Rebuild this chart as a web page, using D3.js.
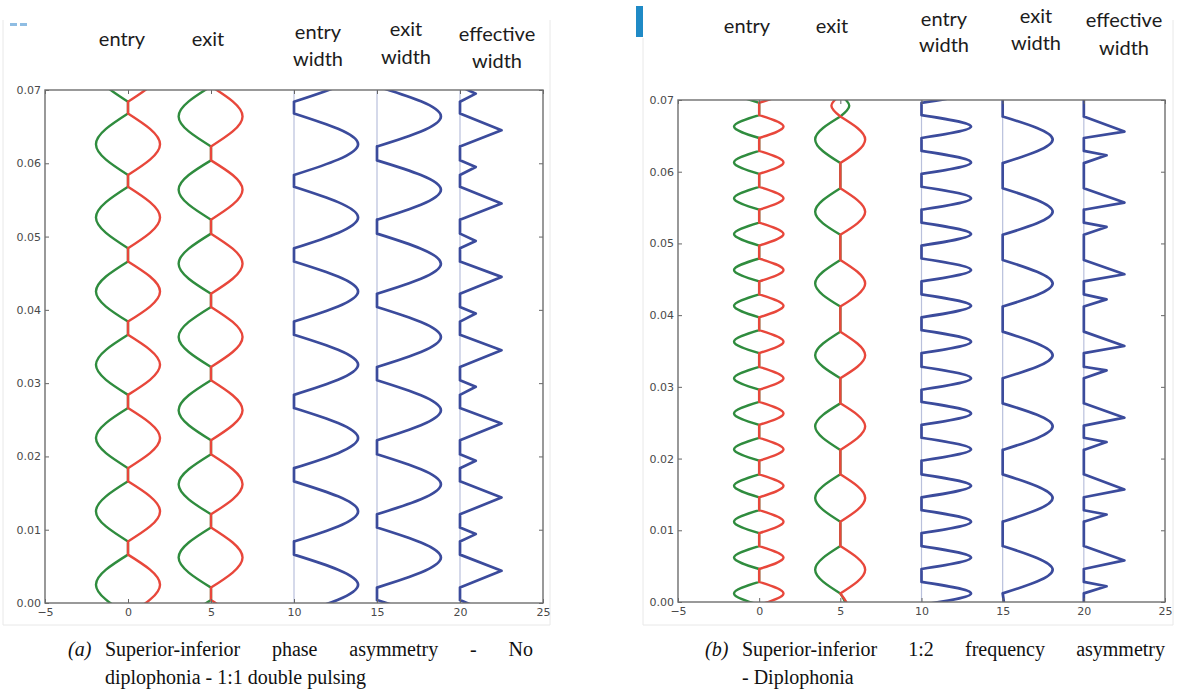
<!DOCTYPE html>
<html>
<head>
<meta charset="utf-8">
<script src="https://cdn.jsdelivr.net/npm/d3@7"></script>
<style>
  body { margin: 0; background: #fff; }
  svg { display: block; }
</style>
</head>
<body>
<svg id="fig" width="1180" height="693"></svg>
<script>
// ---------- shared axis content ----------
const xTicks = [-5, 0, 5, 10, 15, 20, 25];
const xTickLabels = ["\u22125", "0", "5", "10", "15", "20", "25"];
const yTicks = [0, 0.01, 0.02, 0.03, 0.04, 0.05, 0.06, 0.07];
const yTickLabels = ["0.00", "0.01", "0.02", "0.03", "0.04", "0.05", "0.06", "0.07"];
const guideLines = [10, 15, 20];            // baselines of the three width traces
const columnBase = [0, 5, 10, 15, 20];      // entry, exit, entry width, exit width, effective width
const columnHeads = [["entry"], ["exit"], ["entry", "width"], ["exit", "width"], ["effective", "width"]];

// ---------- (a) phase asymmetry ----------
// fold opening lobes: [opens (s), widest (s), closes (s), green excursion, red excursion]
const aEntryLobes = [
  [-0.0016, 0.0025, 0.0066, -1.93, 1.93],
  [0.0084, 0.0125, 0.0166, -1.93, 1.93],
  [0.0184, 0.0225, 0.0266, -1.93, 1.93],
  [0.0284, 0.0325, 0.0366, -1.93, 1.93],
  [0.0384, 0.0425, 0.0466, -1.93, 1.93],
  [0.0484, 0.0526, 0.0568, -1.93, 1.93],
  [0.0584, 0.0626, 0.0668, -1.93, 1.93],
  [0.0684, 0.0726, 0.0768, -1.93, 1.93]
];
const aExitLobes = [
  [-0.0078, -0.0037, 0.0004, -1.95, 1.9],
  [0.0021, 0.0062, 0.0103, -1.95, 1.9],
  [0.0121, 0.0162, 0.0203, -1.95, 1.9],
  [0.0222, 0.0263, 0.0304, -1.95, 1.9],
  [0.0322, 0.0363, 0.0404, -1.95, 1.9],
  [0.0422, 0.0463, 0.0504, -1.95, 1.9],
  [0.0523, 0.0564, 0.0604, -1.95, 1.9],
  [0.0623, 0.0664, 0.0705, -1.95, 1.9]
];
// effective width pulses: [opens, peak, closes, peak height]
const aEffectivePulses = [
  [-0.0016, -0.0005, 0.0004, 0.95],
  [0.0021, 0.0044, 0.0066, 2.5],
  [0.0084, 0.0094, 0.0103, 0.95],
  [0.0121, 0.0144, 0.0166, 2.5],
  [0.0184, 0.0194, 0.0203, 0.95],
  [0.0222, 0.0245, 0.0266, 2.5],
  [0.0284, 0.0295, 0.0304, 0.95],
  [0.0322, 0.0345, 0.0366, 2.5],
  [0.0384, 0.0395, 0.0404, 0.95],
  [0.0422, 0.0445, 0.0466, 2.5],
  [0.0484, 0.0494, 0.0504, 0.95],
  [0.0523, 0.0545, 0.0568, 2.5],
  [0.0584, 0.0595, 0.0604, 0.95],
  [0.0623, 0.0645, 0.0668, 2.5],
  [0.0684, 0.0695, 0.0705, 0.95]
];

// ---------- (b) 1:2 frequency asymmetry ----------
const bEntryLobes = [
  [-0.0004, 0.0012, 0.0028, -1.55, 1.5],
  [0.0046, 0.0062, 0.0078, -1.55, 1.5],
  [0.0096, 0.0112, 0.0128, -1.55, 1.5],
  [0.0146, 0.0162, 0.0178, -1.55, 1.5],
  [0.0197, 0.0213, 0.0229, -1.55, 1.5],
  [0.0247, 0.0263, 0.0279, -1.55, 1.5],
  [0.0296, 0.0312, 0.0328, -1.55, 1.5],
  [0.0347, 0.0363, 0.0379, -1.55, 1.5],
  [0.0397, 0.0413, 0.0429, -1.55, 1.5],
  [0.0447, 0.0463, 0.0479, -1.55, 1.5],
  [0.0497, 0.0513, 0.0529, -1.55, 1.5],
  [0.0547, 0.0563, 0.0579, -1.55, 1.5],
  [0.0597, 0.0613, 0.0629, -1.55, 1.5],
  [0.0647, 0.0663, 0.0679, -1.55, 1.5],
  [0.0696, 0.0712, 0.0728, -1.55, 1.5]
];
const bExitLobes = [
  [-0.0030, -0.0009, 0.0012, 0.4, 0.5],
  [0.0012, 0.0045, 0.0078, -1.55, 1.53],
  [0.0112, 0.0145, 0.0178, -1.55, 1.53],
  [0.0212, 0.0245, 0.0277, -1.55, 1.53],
  [0.0312, 0.0344, 0.0377, -1.55, 1.53],
  [0.0412, 0.0444, 0.0477, -1.55, 1.53],
  [0.0512, 0.0544, 0.0577, -1.55, 1.53],
  [0.0612, 0.0645, 0.0677, -1.55, 1.53],
  [0.0677, 0.0692, 0.0707, 0.55, -0.55]
];
const bEffectivePulses = [
  [0.0012, 0.0022, 0.0028, 1.4],
  [0.0046, 0.0058, 0.0078, 2.5],
  [0.0112, 0.0122, 0.0128, 1.4],
  [0.0146, 0.0157, 0.0178, 2.5],
  [0.0212, 0.0223, 0.0229, 1.4],
  [0.0246, 0.0257, 0.0277, 2.5],
  [0.0312, 0.0323, 0.0328, 1.4],
  [0.0347, 0.0357, 0.0377, 2.5],
  [0.0412, 0.0422, 0.0429, 1.4],
  [0.0447, 0.0457, 0.0477, 2.5],
  [0.0512, 0.0523, 0.0529, 1.4],
  [0.0547, 0.0557, 0.0577, 2.5],
  [0.0612, 0.0623, 0.0629, 1.4],
  [0.0647, 0.0656, 0.0677, 2.5]
];

const captionA = { tag: "(a)", first: "Superior-inferior phase asymmetry - No", second: "diplophonia - 1:1 double pulsing" };
const captionB = { tag: "(b)", first: "Superior-inferior 1:2 frequency asymmetry", second: "- Diplophonia" };

// ---------- styling ----------
const GREEN = "#2f8c3e", RED = "#e8473b", BLUE = "#3b4b9c", GUIDE = "#b9c0dc";

const svg = d3.select("#fig");

// Turn a list of opening lobes into drawable strokes: a smooth lobe for each
// opening and straight closed-phase segments along the baseline between them.
function lobeStrokes(lobes, base, amount, yDom, lobeCurve) {
  const strokes = [];
  let prev = yDom[0] - 0.002;
  for (const l of lobes) {
    if (l[0] > prev) strokes.push({ pts: [[prev, base], [l[0], base]], curve: d3.curveLinear });
    strokes.push({ pts: [[l[0], base], [l[1], base + amount(l)], [l[2], base]], curve: lobeCurve });
    prev = Math.max(prev, l[2]);
  }
  strokes.push({ pts: [[prev, base], [yDom[1] + 0.002, base]], curve: d3.curveLinear });
  return strokes;
}

function drawPanel(cfg) {
  const x = d3.scaleLinear().domain([-5, 25]).range([cfg.left, cfg.right]);
  const y = d3.scaleLinear().domain([0, 0.07]).range([cfg.bottom, cfg.top]);
  const g = svg.append("g");

  const clipId = "clip-" + cfg.id;
  g.append("clipPath").attr("id", clipId).append("rect")
    .attr("x", cfg.left).attr("y", cfg.top)
    .attr("width", cfg.right - cfg.left).attr("height", cfg.bottom - cfg.top);

  const plot = g.append("g").attr("clip-path", `url(#${clipId})`);

  plot.selectAll("line.guide").data(guideLines).join("line")
    .attr("class", "guide")
    .attr("x1", d => x(d)).attr("x2", d => x(d))
    .attr("y1", cfg.top).attr("y2", cfg.bottom)
    .attr("stroke", GUIDE).attr("stroke-width", 1.2);

  const yDom = y.domain();
  const pathOf = strokes => strokes.map(s =>
    d3.line().x(d => x(d[1])).y(d => y(d[0])).curve(s.curve)(s.pts)).join("");

  const widthOf = l => Math.max(0, l[4] - l[3]);
  const traces = [
    { strokes: lobeStrokes(cfg.entry, columnBase[0], l => l[3], yDom, d3.curveMonotoneY), color: GREEN, w: 2.4 },
    { strokes: lobeStrokes(cfg.entry, columnBase[0], l => l[4], yDom, d3.curveMonotoneY), color: RED, w: 2.4 },
    { strokes: lobeStrokes(cfg.exit, columnBase[1], l => l[3], yDom, d3.curveMonotoneY), color: GREEN, w: 2.4 },
    { strokes: lobeStrokes(cfg.exit, columnBase[1], l => l[4], yDom, d3.curveMonotoneY), color: RED, w: 2.4 },
    { strokes: lobeStrokes(cfg.entry, columnBase[2], widthOf, yDom, d3.curveMonotoneY), color: BLUE, w: 2.7 },
    { strokes: lobeStrokes(cfg.exit, columnBase[3], widthOf, yDom, d3.curveMonotoneY), color: BLUE, w: 2.7 },
    { strokes: lobeStrokes(cfg.effective, columnBase[4], l => l[3], yDom, d3.curveLinear), color: BLUE, w: 2.7 }
  ];

  plot.selectAll("path.trace").data(traces).join("path")
    .attr("class", "trace")
    .attr("d", d => pathOf(d.strokes))
    .attr("fill", "none")
    .attr("stroke", d => d.color)
    .attr("stroke-width", d => d.w)
    .attr("stroke-linejoin", "round")
    .attr("stroke-linecap", "round");

  // axes with inward ticks on all four sides
  const tickFont = g => g.selectAll("text")
    .attr("font-family", "DejaVu Sans, sans-serif").attr("font-size", 11).attr("fill", "#4a4a4a");
  const styleAxis = g => {
    g.select(".domain").remove();
    g.selectAll(".tick line").attr("stroke", "#666").attr("stroke-width", 1);
  };
  g.append("g").attr("transform", `translate(${cfg.left},0)`)
    .call(d3.axisLeft(y).tickValues(yTicks).tickFormat((d, i) => yTickLabels[i]).tickSize(-4).tickPadding(4))
    .call(styleAxis).call(tickFont);
  g.append("g").attr("transform", `translate(${cfg.right},0)`)
    .call(d3.axisRight(y).tickValues(yTicks).tickFormat("").tickSize(-4))
    .call(styleAxis);
  g.append("g").attr("transform", `translate(0,${cfg.bottom})`)
    .call(d3.axisBottom(x).tickValues(xTicks).tickFormat((d, i) => xTickLabels[i]).tickSize(-4).tickPadding(5))
    .call(styleAxis).call(tickFont);
  g.append("g").attr("transform", `translate(0,${cfg.top})`)
    .call(d3.axisTop(x).tickValues(xTicks).tickFormat("").tickSize(-4))
    .call(styleAxis);

  g.append("rect")
    .attr("x", cfg.left).attr("y", cfg.top)
    .attr("width", cfg.right - cfg.left).attr("height", cfg.bottom - cfg.top)
    .attr("fill", "none").attr("stroke", "#6e6e6e").attr("stroke-width", 1.4);

  // column headings
  columnHeads.forEach((lines, i) => {
    const t = g.append("text")
      .attr("font-family", "Lato, sans-serif").attr("font-size", 20).attr("fill", "#1c1c1c")
      .attr("text-anchor", "middle");
    lines.forEach((s, j) => {
      t.append("tspan").attr("x", cfg.headX[i]).attr("y", cfg.headY[i][j]).text(s);
    });
  });

  // caption: tag, justified first line, ragged second line
  const cap = cfg.caption;
  const capFont = "Liberation Serif, Times New Roman, serif";
  const capSize = 20;
  g.append("text").attr("x", cfg.capTagX).attr("y", cfg.capY[0])
    .attr("font-family", capFont).attr("font-size", capSize).attr("font-style", "italic").attr("fill", "#111")
    .text(cap.tag);
  const words = cap.first.split(" ");
  const wordNodes = words.map(wd => g.append("text").attr("y", cfg.capY[0])
    .attr("font-family", capFont).attr("font-size", capSize).attr("fill", "#111").text(wd));
  const widths = wordNodes.map(n => n.node().getComputedTextLength());
  const gap = (cfg.capRight - cfg.capX - d3.sum(widths)) / (words.length - 1);
  let cx = cfg.capX;
  wordNodes.forEach((n, i) => { n.attr("x", cx); cx += widths[i] + gap; });
  g.append("text").attr("x", cfg.capX).attr("y", cfg.capY[1])
    .attr("font-family", capFont).attr("font-size", capSize).attr("fill", "#111")
    .text(cap.second);
}

// faint edges of the two figure panels
svg.append("path")
  .attr("d", "M3,20V625H550V20")
  .attr("fill", "none").attr("stroke", "#e8e8e8").attr("stroke-width", 1);
svg.append("path")
  .attr("d", "M643,38V625H1173V20")
  .attr("fill", "none").attr("stroke", "#e8e8e8").attr("stroke-width", 1);
svg.append("rect").attr("x", 10).attr("y", 23).attr("width", 7).attr("height", 3).attr("fill", "#8fbde3");
svg.append("rect").attr("x", 20).attr("y", 23).attr("width", 7).attr("height", 3).attr("fill", "#8fbde3");
svg.append("rect").attr("x", 636).attr("y", 6).attr("width", 7).attr("height", 31).attr("fill", "#1f8ac6");

drawPanel({
  id: "a", left: 45, right: 543, top: 90, bottom: 603,
  entry: aEntryLobes, exit: aExitLobes, effective: aEffectivePulses,
  headX: [122, 208, 318, 406, 497],
  headY: [[46], [46], [39, 66], [36, 64], [41, 68]],
  caption: captionA, capTagX: 68, capX: 105, capRight: 533, capY: [656, 684]
});
drawPanel({
  id: "b", left: 678, right: 1165, top: 100, bottom: 602,
  entry: bEntryLobes, exit: bExitLobes, effective: bEffectivePulses,
  headX: [747, 832, 944, 1036, 1124],
  headY: [[33], [33], [26, 52], [23, 50], [27, 55]],
  caption: captionB, capTagX: 705, capX: 742, capRight: 1165, capY: [656, 684]
});
</script>
</body>
</html>
